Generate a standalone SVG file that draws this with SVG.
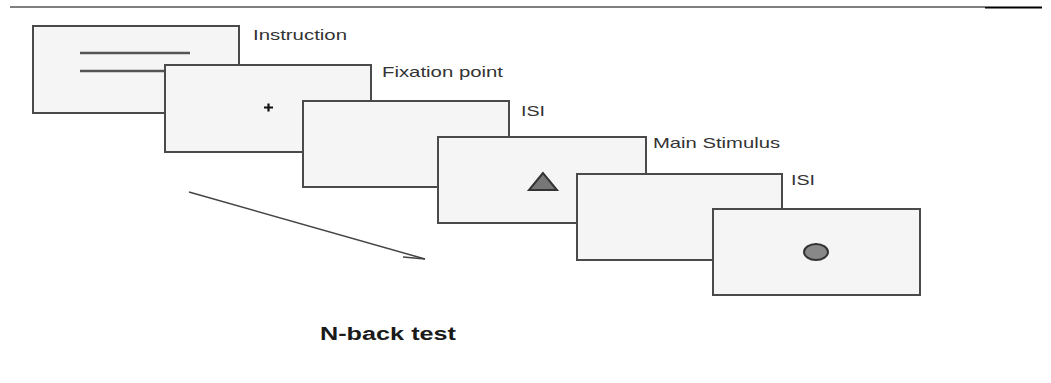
<svg xmlns="http://www.w3.org/2000/svg" width="1051" height="383" viewBox="0 0 1051 383">
<style>
.scr{fill:#f5f5f5;stroke:#4a4a4a;stroke-width:2}
.lbl{font-family:"Liberation Sans",Arial,sans-serif;font-size:14.5px;fill:#333}
.ttl{font-family:"Liberation Sans",Arial,sans-serif;font-size:18px;font-weight:bold;fill:#1a1a1a}
</style>
<rect width="1051" height="383" fill="#fff"/>
<line x1="10" y1="7" x2="985" y2="7" stroke="#000" stroke-width="1"/>
<line x1="985" y1="7.5" x2="1042" y2="7.5" stroke="#000" stroke-width="2"/>
<g id="instruction">
<rect class="scr" x="33" y="26" width="206" height="87"/>
<line x1="80" y1="53" x2="190" y2="53" stroke="#555" stroke-width="2.5"/>
<line x1="80" y1="71" x2="170" y2="71" stroke="#555" stroke-width="2.5"/>
<text class="lbl" x="253" y="40" textLength="94" lengthAdjust="spacingAndGlyphs">Instruction</text>
</g>
<g id="fixation">
<rect class="scr" x="165" y="65" width="206" height="87"/>
<path d="M264 107.5h9M268.5 103.5v8" stroke="#111" stroke-width="2.2"/>
<text class="lbl" x="382" y="77" textLength="121" lengthAdjust="spacingAndGlyphs">Fixation point</text>
</g>
<g id="isi1">
<rect class="scr" x="303" y="101" width="206" height="86"/>
<text class="lbl" x="521" y="116" textLength="24" lengthAdjust="spacingAndGlyphs">ISI</text>
</g>
<g id="main-stimulus">
<rect class="scr" x="438" y="137" width="208" height="86"/>
<polygon points="543,173 529,190 557,190" fill="#777" stroke="#333" stroke-width="2"/>
<text class="lbl" x="653" y="148" textLength="127" lengthAdjust="spacingAndGlyphs">Main Stimulus</text>
</g>
<g id="isi2">
<rect class="scr" x="577" y="174" width="205" height="86"/>
<text class="lbl" x="791" y="185" textLength="24" lengthAdjust="spacingAndGlyphs">ISI</text>
</g>
<g id="response">
<rect class="scr" x="713" y="209" width="207" height="86"/>
<ellipse cx="816" cy="252" rx="12" ry="8" fill="#888" stroke="#333" stroke-width="2"/>
</g>
<g id="connectors">
<line x1="189" y1="192" x2="425" y2="259" stroke="#444" stroke-width="1.5"/>
<line x1="403" y1="257" x2="425" y2="259" stroke="#444" stroke-width="1.5"/>
</g>
<text class="ttl" x="320" y="340" textLength="136" lengthAdjust="spacingAndGlyphs">N-back test</text>
</svg>
